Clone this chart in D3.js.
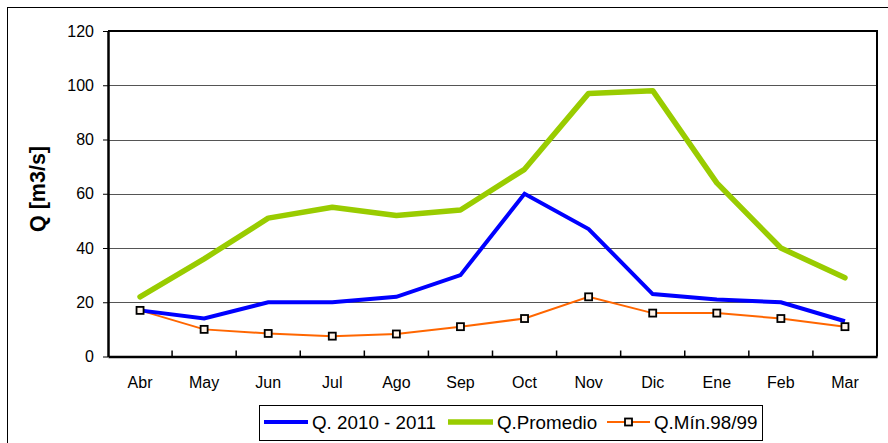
<!DOCTYPE html>
<html lang="es">
<head>
    <meta charset="UTF-8">
    <title>Caudales Q [m3/s]</title>
    <script src="https://d3js.org/d3.v7.min.js"></script>
    <style>
        body{
            margin:0;
            background-color: white;
        }
        svg{
            display:block;
            font-family: Arial, "Liberation Sans", sans-serif;
        }
    </style>
</head>
<body>
    <script>
        const months = ["Abr","May","Jun","Jul","Ago","Sep","Oct","Nov","Dic","Ene","Feb","Mar"];
        const q2010 = [17,14,20,20,22,30,60,47,23,21,20,13];
        const qPromedio = [22,36,51,55,52,54,69,97,98,64,40,29];
        const qMin = [17,10,8.5,7.5,8.3,11,14,22,16,16,14,11];
        const yTicks = [0,20,40,60,80,100,120];
        const seriesNames = ["Q. 2010 - 2011","Q.Promedio","Q.Mín.98/99"];

        const w = 888;
        const h = 443;
        const plot = {left:108,right:877,top:31,bottom:356.5};

        const svg = d3.select("body").append("svg").attr("width",w).attr("height",h);

        // outer chart frame (runs off right/bottom edge)
        svg.append("rect")
            .attr("x",7.5).attr("y",7.5)
            .attr("width",w+20).attr("height",h+20)
            .attr("fill","white").attr("stroke","black").attr("stroke-width",1);

        const xScale = d3.scaleBand().domain(months).range([plot.left,plot.right]).padding(0);
        const yScale = d3.scaleLinear().domain([0,120]).range([plot.bottom,plot.top]);
        const cx = function(d){ return xScale(d) + xScale.bandwidth()/2; };

        // gridlines
        svg.append("g").selectAll("line")
            .data(yTicks.filter(function(t){ return t>0 && t<120; }))
            .enter().append("line")
            .attr("x1",plot.left).attr("x2",plot.right)
            .attr("y1",function(d){ return Math.round(yScale(d))+0.5; })
            .attr("y2",function(d){ return Math.round(yScale(d))+0.5; })
            .attr("stroke","#555").attr("stroke-width",1);

        // plot border (top and right)
        svg.append("path")
            .attr("d","M"+plot.left+","+plot.top+"H"+plot.right+"V"+plot.bottom)
            .attr("fill","none").attr("stroke","black").attr("stroke-width",2);

        // y axis
        const yaxis = d3.axisLeft(yScale).tickValues(yTicks).tickSizeInner(5).tickSizeOuter(0).tickPadding(9);
        const gy = svg.append("g").attr("transform","translate("+plot.left+",0)").call(yaxis);
        gy.select(".domain").attr("stroke-width",2.5);
        gy.selectAll("text").attr("font-size",16).attr("font-family","Arial, 'Liberation Sans', sans-serif").attr("fill","black");

        // x axis
        const xaxis = d3.axisBottom(xScale).tickSizeInner(0).tickSizeOuter(0).tickPadding(20);
        const gx = svg.append("g").attr("transform","translate(0,"+plot.bottom+")").call(xaxis);
        gx.select(".domain").attr("stroke-width",2.5);
        gx.selectAll("text").attr("font-size",16).attr("font-family","Arial, 'Liberation Sans', sans-serif").attr("fill","black");

        // category boundary ticks (pointing inward)
        svg.append("g").selectAll("line")
            .data(months.slice(1))
            .enter().append("line")
            .attr("x1",function(d){ return xScale(d); })
            .attr("x2",function(d){ return xScale(d); })
            .attr("y1",plot.bottom).attr("y2",plot.bottom-6)
            .attr("stroke","black").attr("stroke-width",1.5);

        // y axis title
        svg.append("text")
            .attr("transform","translate(45,189) rotate(-90)")
            .attr("text-anchor","middle")
            .attr("font-size",21.5).attr("font-weight","bold")
            .text("Q [m3/s]");

        const line = d3.line()
            .x(function(d,i){ return cx(months[i]); })
            .y(function(d){ return yScale(d); });

        svg.append("path").datum(qMin)
            .attr("d",line).attr("fill","none")
            .attr("stroke","#FF6600").attr("stroke-width",2);

        svg.append("path").datum(qPromedio)
            .attr("d",line).attr("fill","none")
            .attr("stroke","#99CC00").attr("stroke-width",5.5).attr("stroke-linejoin","round").attr("stroke-linecap","round");

        svg.append("path").datum(q2010)
            .attr("d",line).attr("fill","none")
            .attr("stroke","#0000FF").attr("stroke-width",4);

        svg.append("g").selectAll("rect")
            .data(qMin)
            .enter().append("rect")
            .attr("x",function(d,i){ return cx(months[i]) - 3.5; })
            .attr("y",function(d){ return yScale(d) - 3.5; })
            .attr("width",7).attr("height",7)
            .attr("fill","#fff4ea").attr("stroke","black").attr("stroke-width",1.8);

        // legend
        const legend = svg.append("g");
        legend.append("rect")
            .attr("x",259.5).attr("y",405.5).attr("width",503).attr("height",35)
            .attr("fill","white").attr("stroke","black").attr("stroke-width",1);
        const legItems = [
            {x:264, len:44, color:"#0000FF", width:4, marker:false},
            {x:448, len:45, color:"#99CC00", width:5.5, marker:false},
            {x:607, len:43, color:"#FF6600", width:2, marker:true}
        ];
        legItems.forEach(function(it,i){
            legend.append("line")
                .attr("x1",it.x).attr("x2",it.x+it.len)
                .attr("y1",422).attr("y2",422)
                .attr("stroke",it.color).attr("stroke-width",it.width);
            if(it.marker){
                legend.append("rect")
                    .attr("x",it.x+it.len/2-3.5).attr("y",418.5)
                    .attr("width",7).attr("height",7)
                    .attr("fill","#fff4ea").attr("stroke","black").attr("stroke-width",1.8);
            }
            legend.append("text")
                .attr("x",it.x+it.len+4).attr("y",429)
                .attr("font-size",18.8)
                .text(seriesNames[i]);
        });
    </script>
</body>
</html>
